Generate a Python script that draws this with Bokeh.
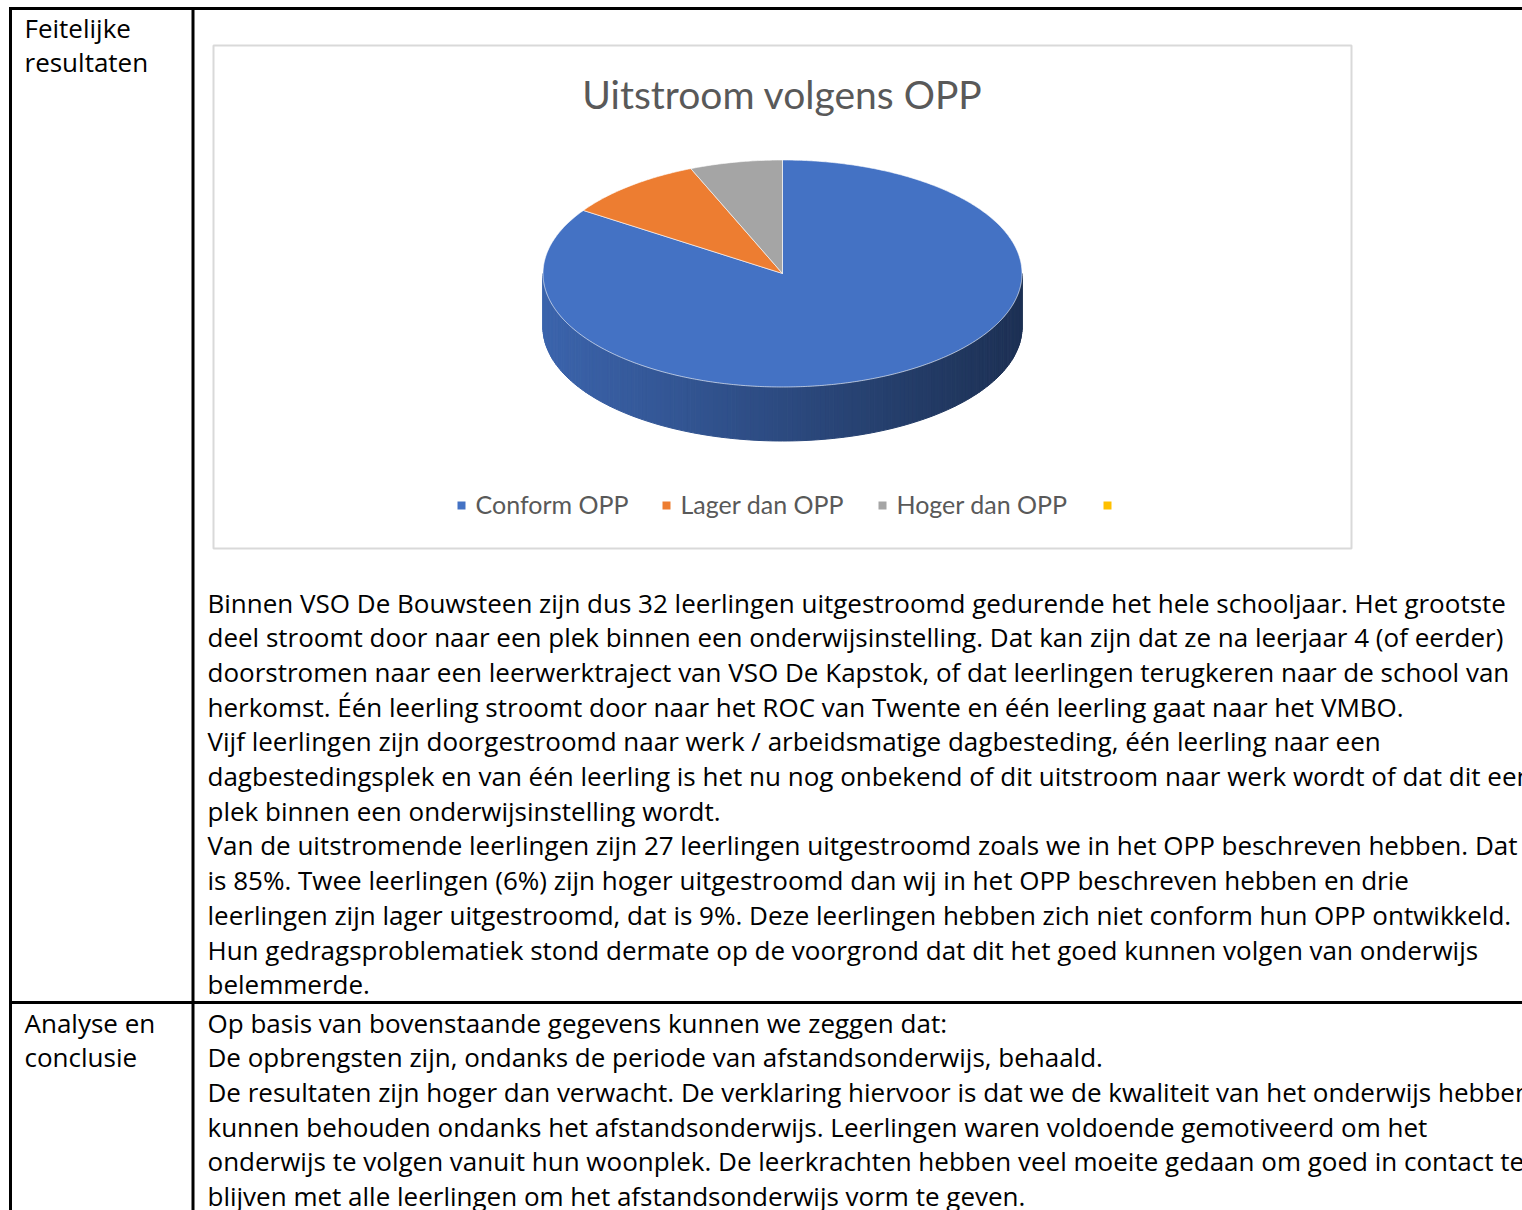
import numpy as np
from bokeh.plotting import figure
from bokeh.models import Range1d, ColumnDataSource
from bokeh.embed import file_html
from bokeh.resources import INLINE
from bokeh.core.properties import value

# ---------------- data ----------------
categories = ["Conform OPP", "Lager dan OPP", "Hoger dan OPP", ""]
counts = [27, 3, 2, 0]
colors = ["#4472C4", "#ED7D31", "#A5A5A5", "#FFC000"]
chart_title = "Uitstroom volgens OPP"

row_labels = [["Feitelijke", "resultaten"], ["Analyse en", "conclusie"]]

results_lines = [
    "Binnen VSO De Bouwsteen zijn dus 32 leerlingen uitgestroomd gedurende het hele schooljaar. Het grootste",
    "deel stroomt door naar een plek binnen een onderwijsinstelling. Dat kan zijn dat ze na leerjaar 4 (of eerder)",
    "doorstromen naar een leerwerktraject van VSO De Kapstok, of dat leerlingen terugkeren naar de school van",
    "herkomst. Één leerling stroomt door naar het ROC van Twente en één leerling gaat naar het VMBO.",
    "Vijf leerlingen zijn doorgestroomd naar werk / arbeidsmatige dagbesteding, één leerling naar een",
    "dagbestedingsplek en van één leerling is het nu nog onbekend of dit uitstroom naar werk wordt of dat dit een",
    "plek binnen een onderwijsinstelling wordt.",
    "Van de uitstromende leerlingen zijn 27 leerlingen uitgestroomd zoals we in het OPP beschreven hebben. Dat",
    "is 85%. Twee leerlingen (6%) zijn hoger uitgestroomd dan wij in het OPP beschreven hebben en drie",
    "leerlingen zijn lager uitgestroomd, dat is 9%. Deze leerlingen hebben zich niet conform hun OPP ontwikkeld.",
    "Hun gedragsproblematiek stond dermate op de voorgrond dat dit het goed kunnen volgen van onderwijs",
    "belemmerde.",
]

conclusion_lines = [
    "Op basis van bovenstaande gegevens kunnen we zeggen dat:",
    "De opbrengsten zijn, ondanks de periode van afstandsonderwijs, behaald.",
    "De resultaten zijn hoger dan verwacht. De verklaring hiervoor is dat we de kwaliteit van het onderwijs hebben",
    "kunnen behouden ondanks het afstandsonderwijs. Leerlingen waren voldoende gemotiveerd om het",
    "onderwijs te volgen vanuit hun woonplek. De leerkrachten hebben veel moeite gedaan om goed in contact te",
    "blijven met alle leerlingen om het afstandsonderwijs vorm te geven.",
]

# ---------------- layout ----------------
W, H = 1522, 1210
BODY_FONT = "Open Sans"
CHART_FONT = "Lato"
BODY_SIZE = "26px"
PITCH = 34.7

p = figure(width=W, height=H, x_range=Range1d(0, W), y_range=Range1d(H, 0),
           output_backend="svg", toolbar_location=None, min_border=0,
           x_axis_location=None, y_axis_location=None)
p.grid.visible = False
p.outline_line_color = None
p.background_fill_color = "white"
p.border_fill_color = "white"

# table borders
p.segment(x0=[8.5, 10, 192.5, 10], y0=[8, 6.5, 6.5, 1002],
          x1=[1522, 10, 192.5, 1522], y1=[8, 1210, 1210, 1002],
          line_color="black", line_width=3)

# chart area box
p.quad(left=[213], right=[1351], top=[45], bottom=[548],
       fill_color="white", line_color="#d9d9d9", line_width=2)

# title
p.text(x=[782], y=[93], text=[chart_title], text_align="center", text_baseline="middle",
       text_font=value(CHART_FONT), text_font_size="39px", text_color="#595959")

# ---------------- 3D pie ----------------
cx, cy, rx, ry, depth = 782, 273, 239.5, 113.5, 54
vals = np.array(counts, dtype=float)
fr = vals / vals.sum()
ends = np.cumsum(fr) * 2 * np.pi
starts = ends - fr * 2 * np.pi


def ex(t):
    return cx + rx * np.sin(t)


def ey(t):
    return cy - ry * np.cos(t)


def hex_to_rgb(h):
    h = h.lstrip("#")
    return np.array([int(h[i:i + 2], 16) for i in (0, 2, 4)], dtype=float)


def rgb_to_hex(c):
    c = np.clip(c, 0, 255).astype(int)
    return "#%02x%02x%02x" % tuple(c)


# side strips (front half, below the centre line)
n_strips = 160
ts = np.linspace(np.pi / 2, 3 * np.pi / 2, n_strips + 1)
side_xs, side_ys, side_col = [], [], []
for t0, t1 in zip(ts[:-1], ts[1:]):
    tm = 0.5 * (t0 + t1)
    k = int(np.searchsorted(ends, tm % (2 * np.pi), side="right"))
    k = min(k, len(counts) - 1)
    xm = ex(tm)
    f = 0.43 + 0.45 * ((cx + rx - xm) / (2 * rx))
    col = rgb_to_hex(hex_to_rgb(colors[k]) * f)
    side_xs.append([ex(t0), ex(t1), ex(t1), ex(t0)])
    side_ys.append([ey(t0), ey(t1), ey(t1) + depth, ey(t0) + depth])
    side_col.append(col)
p.patches(xs=side_xs, ys=side_ys, fill_color=side_col, line_color=side_col, line_width=1)

# top faces
top_xs, top_ys, top_col = [], [], []
for s, e, c, v in zip(starts, ends, colors, vals):
    if v <= 0:
        continue
    t = np.linspace(s, e, max(int((e - s) / 0.01), 4))
    top_xs.append(np.concatenate([[cx], ex(t)]).tolist())
    top_ys.append(np.concatenate([[cy], ey(t)]).tolist())
    top_col.append(c)
p.patches(xs=top_xs, ys=top_ys, fill_color=top_col, line_color="white",
          line_width=1, line_alpha=0.6)

# ---------------- legend ----------------
legend_x = [461, 666, 882, 1107]
legend_y = 505
p.rect(x=legend_x, y=[legend_y] * 4, width=8, height=8, fill_color=colors, line_color=None)
p.text(x=[lx + 14 for lx in legend_x], y=[legend_y - 2] * 4, text=categories,
       text_align="left", text_baseline="middle", text_font=value(CHART_FONT),
       text_font_size="25px", text_color="#595959")

# ---------------- table texts ----------------
lab_x, lab_y, lab_t = [], [], []
for top, labs in zip([27, 1022], row_labels):
    for i, t in enumerate(labs):
        lab_x.append(24)
        lab_y.append(top + i * PITCH)
        lab_t.append(t)
p.text(x=lab_x, y=lab_y, text=lab_t, text_align="left", text_baseline="middle",
       text_font=value(BODY_FONT), text_font_size=BODY_SIZE, text_color="black")

body_src = ColumnDataSource(dict(
    x=[207] * (len(results_lines) + len(conclusion_lines)),
    y=[602 + i * PITCH for i in range(len(results_lines))] +
      [1022 + i * PITCH for i in range(len(conclusion_lines))],
    text=results_lines + conclusion_lines,
))
p.text(x="x", y="y", text="text", source=body_src, text_align="left", text_baseline="middle",
       text_font=value(BODY_FONT), text_font_size=BODY_SIZE, text_color="black")

open("out.html", "w").write(file_html(p, INLINE))
